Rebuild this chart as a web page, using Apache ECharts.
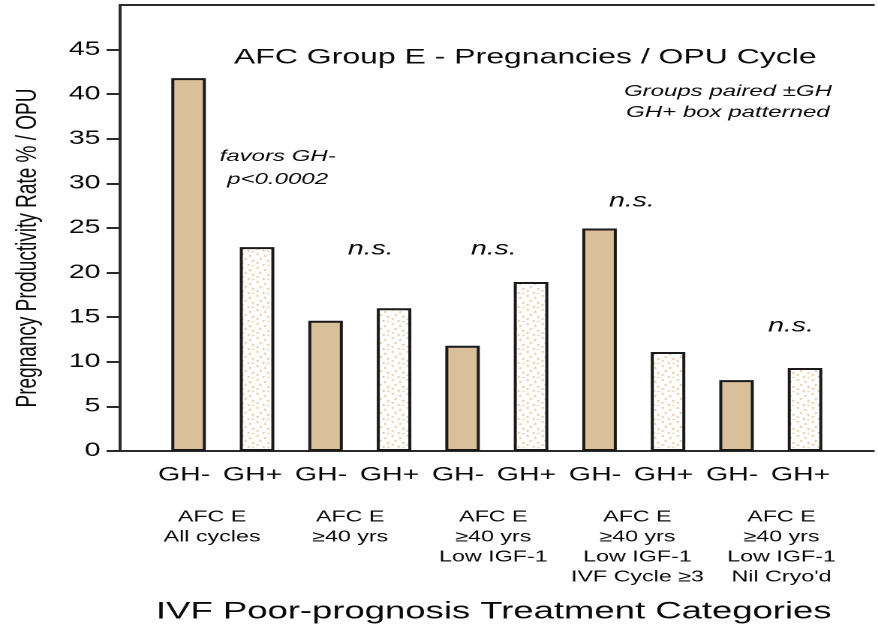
<!DOCTYPE html>
<html>
<head>
<meta charset="utf-8">
<script src="https://cdn.jsdelivr.net/npm/echarts@6/dist/echarts.min.js"></script>
<style>
    html, body { margin: 0; padding: 0; background: #fff; overflow: hidden; }
    /* the reference is stretched sideways ~1.5x, so draw narrow and stretch */
    #chart { width: 585px; height: 631px; transform: scaleX(1.5009); transform-origin: 0 0; }
</style>
</head>
<body>
<div id="chart"></div>
<script>
    // slots: blank, 5 pairs of GH- / GH+, blank
    const barLabels = ['', 'GH-', 'GH+', 'GH-', 'GH+', 'GH-', 'GH+', 'GH-', 'GH+', 'GH-', 'GH+', ''];
    const ghMinus = ['-', 41.8, '-', 14.6, '-', 11.8, '-', 24.95, '-', 7.95, '-', '-'];
    const ghPlus = ['-', '-', 22.85, '-', 16.0, '-', 18.95, '-', 11.1, '-', 9.3, '-'];
    const yTicks = [0, 5, 10, 15, 20, 25, 30, 35, 40, 45];
    const groupLabels = [
        'AFC E\nAll cycles',
        'AFC E\n≥40 yrs',
        'AFC E\n≥40 yrs\nLow IGF-1',
        'AFC E\n≥40 yrs\nLow IGF-1\nIVF Cycle ≥3',
        'AFC E\n≥40 yrs\nLow IGF-1\nNil Cryo\'d'
    ];

    const tan = '#d9bf9a';
    const ink = '#0a0a0a';
    const font = 'Liberation Sans, Arial, sans-serif';

    // speckled fill for the GH+ boxes
    const tile = document.createElement('canvas');
    tile.width = 10; tile.height = 14;
    const tctx = tile.getContext('2d');
    tctx.fillStyle = '#fff';
    tctx.fillRect(0, 0, 10, 14);
    tctx.fillStyle = '#dbb88a';
    [[1, 1], [6, 3], [3, 6], [8, 8], [1, 10], [5, 12], [8, 13]].forEach(function (p) {
        tctx.fillRect(p[0], p[1], 1.2, 1.8);
    });

    function txt(x, y, text, size, italic, lh) {
        return {
            type: 'text', x: x, y: y,
            style: {
                text: text, align: 'center', verticalAlign: 'middle',
                font: (italic ? 'italic ' : '') + size + 'px ' + font,
                fill: ink, lineHeight: lh || size
            }
        };
    }

    const myChart = echarts.init(document.getElementById('chart'), null, { devicePixelRatio: 2 });
    const option = {
        animation: false,
        title: {
            text: 'AFC Group E - Pregnancies / OPU Cycle',
            left: 345,
            top: 42,
            textAlign: 'center',
            textStyle: { fontFamily: font, fontSize: 21.3, fontWeight: 'normal', color: ink }
        },
        grid: { left: 80, right: -7, top: 5, bottom: 180 },
        xAxis: [
            {
                type: 'category',
                data: barLabels,
                boundaryGap: false,
                axisLine: { lineStyle: { color: '#2a2a2a', width: 2 } },
                axisTick: { show: false },
                axisLabel: { interval: 0, margin: 15, fontFamily: font, fontSize: 19, color: ink, padding: [0, 6, 0, 0] }
            },
            {
                type: 'category',
                position: 'top',
                data: barLabels,
                boundaryGap: false,
                axisLine: { lineStyle: { color: '#2a2a2a', width: 2 } },
                axisTick: { show: false },
                axisLabel: { show: false }
            }
        ],
        yAxis: {
            type: 'value',
            min: 0,
            max: 50,
            interval: 5,
            splitLine: { show: false },
            axisLine: { show: true, lineStyle: { color: '#2a2a2a', width: 2 } },
            axisTick: { show: true, length: 9, customValues: yTicks, lineStyle: { color: '#2a2a2a', width: 2 } },
            axisLabel: { customValues: yTicks, margin: 13, fontFamily: font, fontSize: 19, color: ink }
        },
        series: [
            {
                name: 'GH-',
                type: 'bar',
                data: ghMinus,
                barWidth: 23,
                barGap: '-100%',
                itemStyle: { color: tan, borderColor: '#1a1a1a', borderWidth: 2 }
            },
            {
                name: 'GH+',
                type: 'bar',
                data: ghPlus,
                barWidth: 23,
                itemStyle: { color: { image: tile, repeat: 'repeat' }, borderColor: '#1a1a1a', borderWidth: 2 }
            }
        ],
        graphic: [
            {
                type: 'text', x: 19, y: 248, rotation: Math.PI / 2,
                style: {
                    text: 'Pregnancy Productivity Rate % / OPU', align: 'center', verticalAlign: 'middle',
                    font: '19px ' + font, fill: ink
                }
            },
            txt(485, 102, 'Groups paired ±GH\nGH+ box patterned', 16, true, 21),
            txt(185, 168, 'favors GH-\np<0.0002', 16, true, 23),
            txt(247, 249, 'n.s.', 19, true),
            txt(329, 249, 'n.s.', 19, true),
            txt(421, 201, 'n.s.', 19, true),
            txt(527, 326, 'n.s.', 19, true),
            txt(329, 612, 'IVF Poor-prognosis Treatment Categories', 24.3, false)
        ].concat(groupLabels.map(function (t, i) {
            const xs = [141.3, 233.3, 328.7, 424.7, 520.7];
            return {
                type: 'text', x: xs[i], y: 507,
                style: { text: t, align: 'center', verticalAlign: 'top', font: '15.5px ' + font, fill: ink, lineHeight: 20 }
            };
        }))
    };
    myChart.setOption(option);
</script>
</body>
</html>
